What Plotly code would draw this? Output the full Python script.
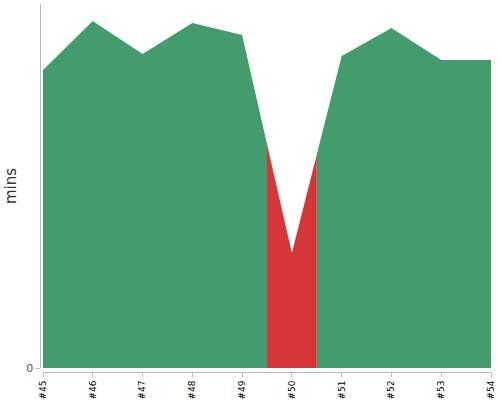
import plotly.graph_objects as go

# build numbers and minutes per build
builds = ['#45', '#46', '#47', '#48', '#49', '#50', '#51', '#52', '#53', '#54']
mins = [29.8, 34.7, 31.4, 34.5, 33.3, 11.5, 31.2, 34.0, 30.8, 30.8]
y_max = 36.4
slow_build = '#50'  # the one drawn in red

green = '#449b6d'
red = '#d63638'
axis_grey = '#bbbbbb'

W, H = 500, 400
x_dom = [43 / W, 491 / W]
y_dom = [32 / H, 396 / H]

idx = list(range(len(builds)))
k = builds.index(slow_build)
span = x_dom[1] - x_dom[0]
step = span / (len(builds) - 1)
red_dom = [x_dom[0] + (k - 0.5) * step, x_dom[0] + (k + 0.5) * step]

fig = go.Figure()

fig.add_trace(go.Scatter(
    x=idx, y=mins, mode='lines', fill='tozeroy',
    line=dict(width=0, color=green), fillcolor=green,
    hoverinfo='skip', showlegend=False,
))

# same series on a narrow axis so it gets clipped to the slow build's band
fig.add_trace(go.Scatter(
    x=idx, y=mins, mode='lines', fill='tozeroy', xaxis='x2',
    line=dict(width=0, color=red), fillcolor=red,
    hoverinfo='skip', showlegend=False,
))

fig.update_layout(
    width=W, height=H,
    margin=dict(l=0, r=0, t=0, b=0, autoexpand=False),
    plot_bgcolor='white', paper_bgcolor='white',
    font=dict(family='DejaVu Sans', color='#333333'),
    xaxis=dict(
        domain=x_dom, range=[0, len(builds) - 1], anchor='free', position=28 / H,
        tickmode='array', tickvals=idx, ticktext=builds, tickangle=-90,
        tickfont=dict(size=9, color='black'),
        ticks='outside', ticklen=4, tickcolor=axis_grey,
        showline=True, linecolor=axis_grey, linewidth=1,
        showgrid=False, zeroline=False, automargin=False,
    ),
    xaxis2=dict(
        domain=red_dom, range=[k - 0.5, k + 0.5], anchor='y',
        visible=False, showgrid=False, zeroline=False,
    ),
    yaxis=dict(
        domain=y_dom, range=[0, y_max], anchor='free', position=39.5 / W,
        tickmode='array', tickvals=[0], ticktext=['0'],
        tickfont=dict(size=11, color='#555555'),
        ticks='outside', ticklen=4, tickcolor=axis_grey,
        showline=True, linecolor=axis_grey, linewidth=1,
        showgrid=False, zeroline=False, automargin=False,
        title=dict(text='mins', font=dict(size=15, color='#333333'), standoff=5),
    ),
)

# the page's default body margin would push the chart off the window
fig.write_html(
    'out.html',
    config={'displayModeBar': False},
    post_script="document.body.style.margin='0';document.body.style.overflow='hidden';",
)
